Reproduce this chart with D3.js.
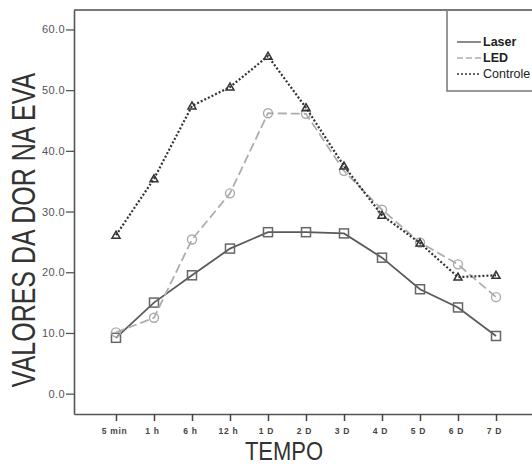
<!DOCTYPE html>
<html>
<head>
<meta charset="utf-8">
<script src="https://cdn.jsdelivr.net/npm/d3@7/dist/d3.min.js"></script>
<style>
  html, body { margin: 0; padding: 0; background: #fff; }
  svg { display: block; font-family: "Liberation Sans", Arial, sans-serif; }
</style>
</head>
<body>
<svg id="chart" width="532" height="464"></svg>
<script>
// Time points after treatment
const categories = ["5 min", "1 h", "6 h", "12 h", "1 D", "2 D", "3 D", "4 D", "5 D", "6 D", "7 D"];

// Mean pain score (VAS) per group
const laser    = [9.2, 15.0, 19.5, 23.9, 26.6, 26.6, 26.4, 22.4, 17.2, 14.2, 9.5];
const led      = [10.1, 12.5, 25.4, 33.0, 46.2, 46.1, 36.7, 30.3, 24.9, 21.3, 15.9];
const controle = [26.1, 35.4, 47.4, 50.5, 55.6, 47.1, 37.5, 29.4, 24.8, 19.2, 19.5];

const yTicks = [0, 10, 20, 30, 40, 50, 60];

const svg = d3.select("#chart");

const plotLeft = 74, plotRight = 538, plotTop = 10, plotBottom = 414;

const x = d3.scalePoint().domain(categories).range([plotLeft, plotRight]).padding(1.105);
const y = d3.scaleLinear().domain([-3.35, 63.2]).range([plotBottom, plotTop]);

// plot frame: top border
svg.append("line")
  .attr("x1", plotLeft).attr("x2", 532).attr("y1", plotTop).attr("y2", plotTop)
  .attr("stroke", "#7a7a7a").attr("stroke-width", 2);

// y axis
const yAxis = svg.append("g")
  .attr("transform", `translate(${plotLeft},0)`)
  .call(d3.axisLeft(y).tickValues(yTicks).tickFormat(d3.format(".1f")).tickSize(8).tickSizeOuter(0));
yAxis.select(".domain").attr("stroke", "#555").attr("stroke-width", 1.6);
yAxis.selectAll(".tick line").attr("stroke", "#555").attr("stroke-width", 1.3);
yAxis.selectAll(".tick text")
  .attr("font-size", 11).attr("fill", "#555").attr("x", -9)
  .attr("letter-spacing", 0.4)
  .attr("font-family", "'Liberation Sans Narrow', 'Liberation Sans', Arial, sans-serif");

// x axis
const xAxis = svg.append("g")
  .attr("transform", `translate(0,${plotBottom})`)
  .call(d3.axisBottom(x).tickSize(7).tickSizeOuter(0));
xAxis.select(".domain").attr("stroke", "#555").attr("stroke-width", 1.6);
xAxis.selectAll(".tick line").attr("stroke", "#444").attr("stroke-width", 1.5);
xAxis.selectAll(".tick text")
  .attr("font-size", 8.5).attr("font-weight", "bold").attr("fill", "#444").attr("y", 14)
  .attr("dx", -2)
  .attr("letter-spacing", 0.7);

// axis titles
svg.append("text")
  .attr("transform", `translate(284,460) scale(1,1.15)`)
  .attr("text-anchor", "middle")
  .attr("font-size", 22).attr("fill", "#333")
  .text("TEMPO");

svg.append("text")
  .attr("transform", `translate(35,230) rotate(-90) scale(1,1.3)`)
  .attr("text-anchor", "middle")
  .attr("font-size", 25).attr("fill", "#333")
  .text("VALORES DA DOR NA EVA");

// series
const series = [
  { name: "Laser",    values: laser,    color: "#5a5a5a", width: 1.8, dash: null,  marker: "square",   bold: true },
  { name: "LED",      values: led,      color: "#adadad", width: 1.8, dash: "9,4", marker: "circle",   bold: true },
  { name: "Controle", values: controle, color: "#333333", width: 2.2, dash: "2,2", marker: "triangle", bold: false }
];

const line = d3.line().x((d, i) => x(categories[i])).y(d => y(d));

series.forEach(s => {
  svg.append("path")
    .attr("d", line(s.values))
    .attr("fill", "none")
    .attr("stroke", s.color)
    .attr("stroke-width", s.width)
    .attr("stroke-dasharray", s.dash);

  const g = svg.append("g");
  s.values.forEach((v, i) => {
    const cx = x(categories[i]), cy = y(v);
    if (s.marker === "square") {
      g.append("rect").attr("x", cx - 4.5).attr("y", cy - 4.5).attr("width", 9).attr("height", 9)
        .attr("fill", "none").attr("stroke", "#666").attr("stroke-width", 1.5);
    } else if (s.marker === "circle") {
      g.append("circle").attr("cx", cx).attr("cy", cy).attr("r", 4.5)
        .attr("fill", "none").attr("stroke", "#aaa").attr("stroke-width", 1.4);
    } else {
      g.append("path")
        .attr("d", `M${cx},${cy - 4}L${cx + 4},${cy + 3}L${cx - 4},${cy + 3}Z`)
        .attr("fill", "none").attr("stroke", "#333").attr("stroke-width", 1.5);
    }
  });
});

// legend
const legend = svg.append("g");
legend.append("path")
  .attr("d", "M447,10V91H534")
  .attr("fill", "#fff").attr("stroke", "#777").attr("stroke-width", 1.5);

series.forEach((s, i) => {
  const ly = 42 + i * 16;
  legend.append("line")
    .attr("x1", 457).attr("x2", 481).attr("y1", ly).attr("y2", ly)
    .attr("stroke", s.color).attr("stroke-width", s.name === "Controle" ? 1.6 : 1.4)
    .attr("stroke-dasharray", s.name === "LED" ? "6,3" : (s.name === "Controle" ? "2,2" : null));
  legend.append("text")
    .attr("x", 483).attr("y", ly + 4)
    .attr("font-size", 12.5)
    .attr("font-weight", s.bold ? "bold" : "normal")
    .attr("fill", "#222")
    .attr("font-family", "'Liberation Sans Narrow', 'Liberation Sans', Arial, sans-serif")
    .text(s.name);
});
</script>
</body>
</html>
